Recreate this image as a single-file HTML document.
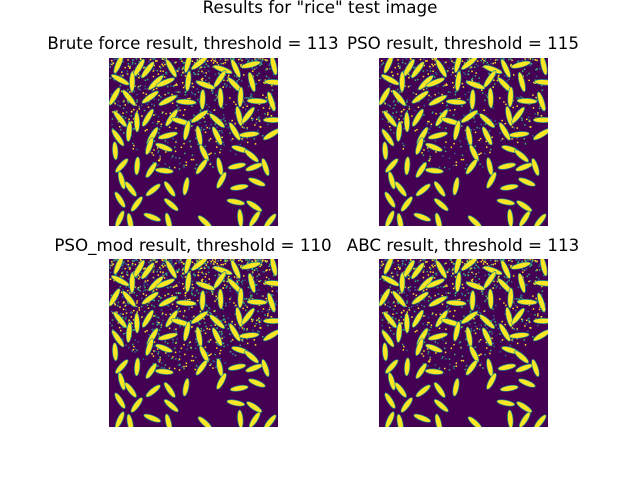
<!DOCTYPE html>
<html><head><meta charset="utf-8"><style>
body{margin:0;background:#fff;width:640px;height:480px;position:relative;overflow:hidden;font-family:"DejaVu Sans","Liberation Sans",sans-serif}
.t{position:absolute;font-size:16.7px;color:#000;white-space:nowrap;transform:translateX(-50%)}
svg{position:absolute}
</style></head><body>
<div class="t" style="left:320px;top:-3px">Results for "rice" test image</div>
<div class="t" style="left:193px;top:33px">Brute force result, threshold = 113</div>
<div class="t" style="left:463px;top:33px">PSO result, threshold = 115</div>
<div class="t" style="left:193px;top:235px">PSO_mod result, threshold = 110</div>
<div class="t" style="left:463px;top:235px">ABC result, threshold = 113</div>
<svg id="s0" style="left:109px;top:58px" width="169" height="168"></svg>
<svg id="s1" style="left:379px;top:58px" width="169" height="168"></svg>
<svg id="s2" style="left:109px;top:259px" width="169" height="168"></svg>
<svg id="s3" style="left:379px;top:259px" width="169" height="168"></svg>
<script>
const thresholds=[113,115,110,113];
const NS="http://www.w3.org/2000/svg";
let seed=12345;function rnd(){seed=(seed*1103515245+12345)%2147483648;return seed/2147483648;}
const grains=[];
for(let r=0;r<10;r++)for(let c=0;c<10;c++){
  const dense=r<5;
  if(!dense&&rnd()<0.25)continue;
  grains.push({x:c*17+8+(rnd()-0.5)*10,y:r*17+8+(rnd()-0.5)*10,a:rnd()*180,l:dense?10:9,w:2.7});
}
const noise=[];
for(let i=0;i<1500;i++){const x=rnd()*169,y=Math.pow(rnd(),1.5)*115;const dx=(x-80)/80,dy=(y-35)/70;if(dx*dx+dy*dy<1.2)noise.push({x,y,t:rnd()});}
thresholds.forEach((th,k)=>{
  const s=document.getElementById('s'+k);
  const bg=document.createElementNS(NS,'rect');
  
  
  bg.setAttribute('width',169);bg.setAttribute('height',168);bg.setAttribute('fill','#440154');s.appendChild(bg);
  const frac=Math.max(0.15,(120-th)/12);
  noise.forEach(n=>{if(n.t<frac){const d=document.createElementNS(NS,'rect');
    
    
    d.setAttribute('x',n.x);d.setAttribute('y',n.y);d.setAttribute('width',1.5);d.setAttribute('height',1.5);
    d.setAttribute('fill',n.t<frac*0.4?'#fde725':(n.t<frac*0.7?'#35b779':'#31688e'));s.appendChild(d);}});
  grains.forEach(g=>{const e=document.createElementNS(NS,'ellipse');
    
    
    e.setAttribute('cx',g.x);e.setAttribute('cy',g.y);e.setAttribute('rx',g.l);e.setAttribute('ry',g.w);
    e.setAttribute('transform','rotate('+g.a+' '+g.x+' '+g.y+')');
    e.setAttribute('fill','#fde725');e.setAttribute('stroke','#21918c');e.setAttribute('stroke-width','0.7');s.appendChild(e);});
});
</script>
</body></html>
